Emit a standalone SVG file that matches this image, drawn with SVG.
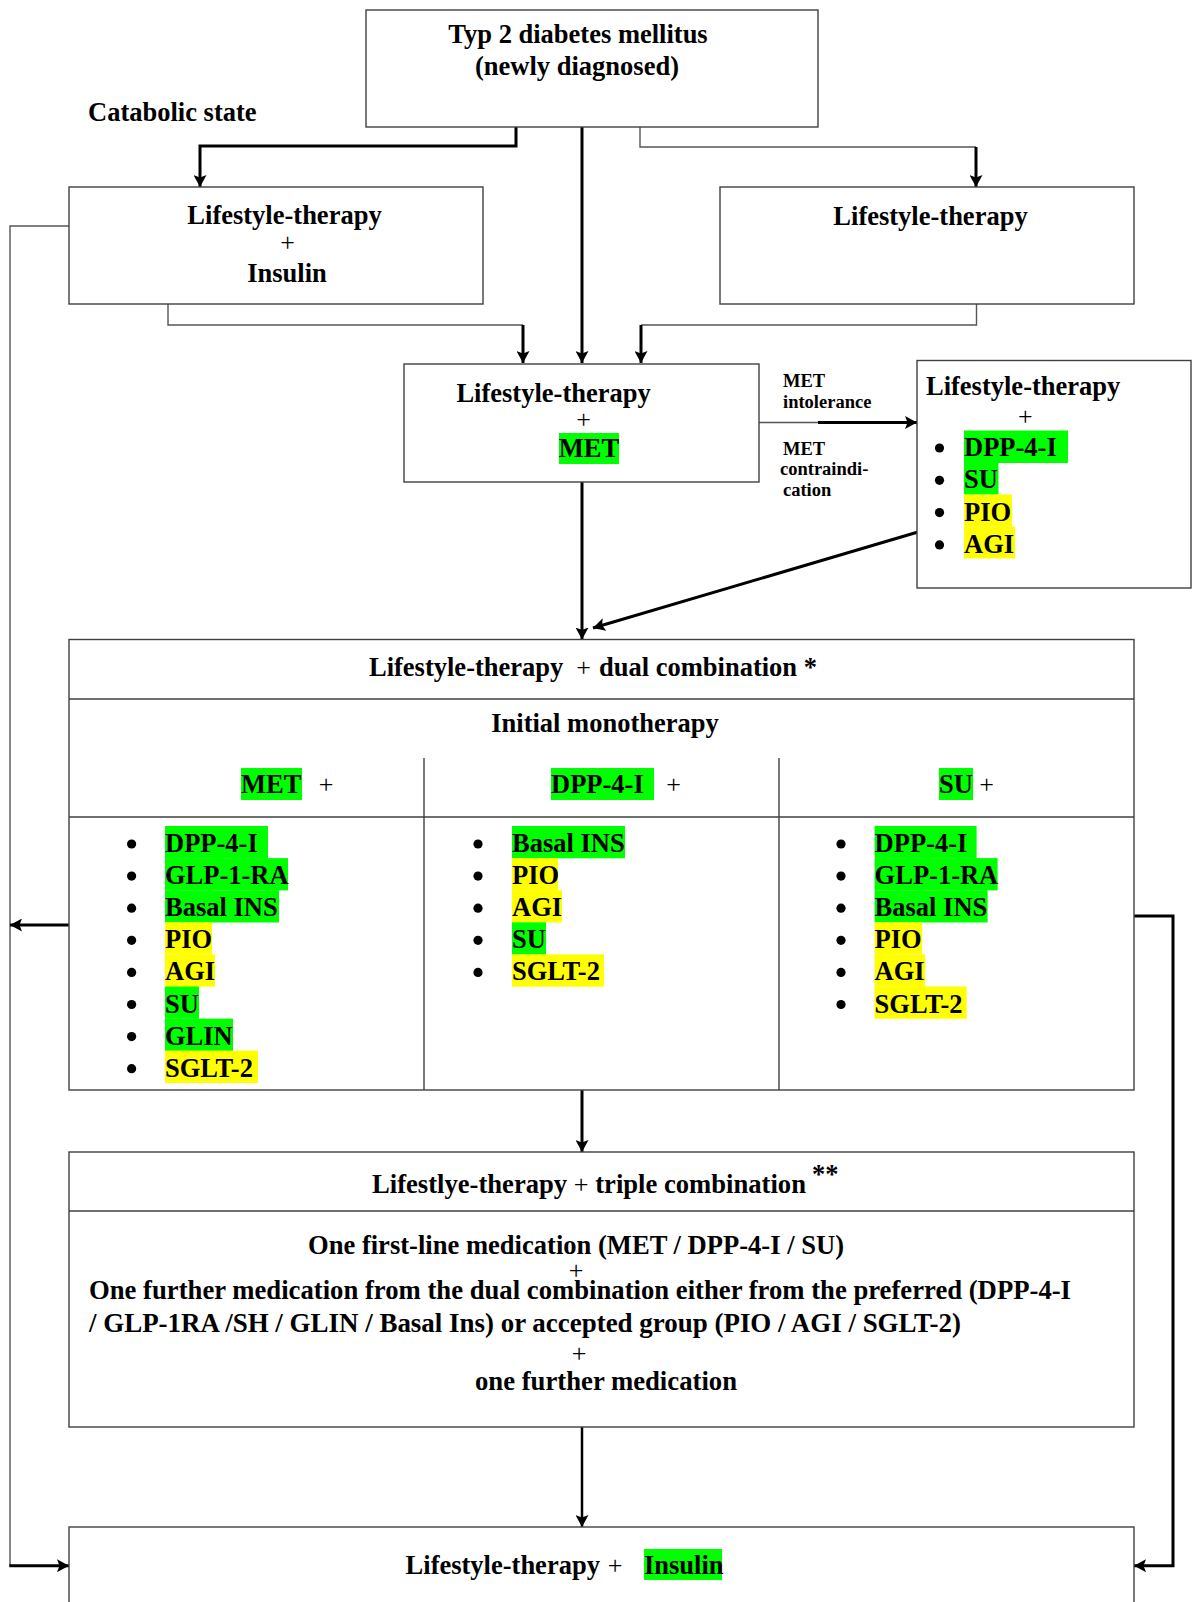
<svg xmlns="http://www.w3.org/2000/svg" width="1193" height="1602" viewBox="0 0 1193 1602">
<style>
.box{fill:#fff;stroke:#404040;stroke-width:1.4}
.sep{fill:none;stroke:#404040;stroke-width:1.4}
.t{font-family:"Liberation Serif","Times New Roman",serif;font-weight:bold;font-size:26.5px;fill:#000}
.p{font-family:"Liberation Serif","Times New Roman",serif;font-weight:normal;font-size:26px;fill:#000}
.s{font-family:"Liberation Serif","Times New Roman",serif;font-weight:bold;font-size:18.5px;fill:#000}
.c{text-anchor:middle}
.g{fill:#00ff00}
.y{fill:#ffff00}
.thick{fill:none;stroke:#000;stroke-width:3}
.thin{fill:none;stroke:#555;stroke-width:1.4}
.arr{marker-end:url(#ah)}
.bul{fill:#000}
</style>
<defs>
<marker id="ah" markerUnits="userSpaceOnUse" markerWidth="13" markerHeight="13" refX="12" refY="6.5" orient="auto">
<path d="M0,0 L12,6.5 L0,13 L2.5,6.5 Z" fill="#000"/>
</marker>
</defs>
<rect width="1193" height="1602" fill="#fff"/>

<g id="connectors">
<path class="thick arr" d="M516,127 V146 H200 V187"/>
<path class="thick arr" d="M582,127 V363"/>
<path class="thin" d="M640,127 V147 H976"/>
<path class="thick arr" d="M976,147 V187"/>
<path class="thin" d="M168,304 V325 H523"/>
<path class="thick arr" d="M523,325 V363"/>
<path class="thin" d="M976.5,304 V325 H641"/>
<path class="thick arr" d="M641,325 V363"/>
<path class="thin" d="M759,422.5 H818"/>
<path class="thick arr" d="M818,422.5 H917"/>
<path class="thick arr" d="M918,532 L593,628"/>
<path class="thick arr" d="M582,482 V639.5"/>
<path class="thick arr" d="M582,1090 V1152"/>
<path class="thick arr" d="M582,1427 V1527" style="stroke-width:2.5"/>
<path class="thin" d="M69,226 H10 V1565.7"/>
<path class="thick arr" d="M9.3,1565.7 H69"/>
<path class="thick arr" d="M69,925 H10"/>
<path class="thick arr" d="M1134,916 H1173 V1565.7 H1134"/>
</g>

<g id="catabolic-label">
<text class="t" x="88" y="120.5">Catabolic state</text>
</g>

<g id="node-t2dm">
<rect class="box" x="366" y="10" width="452" height="117"/>
<text class="t c" x="578" y="43">Typ 2 diabetes mellitus</text>
<text class="t c" x="577" y="74.5">(newly diagnosed)</text>
</g>

<g id="node-lifestyle-insulin">
<rect class="box" x="69" y="187" width="414" height="117"/>
<text class="t c" x="284.5" y="224">Lifestyle-therapy</text>
<text class="p c" x="287.5" y="251">+</text>
<text class="t c" x="287" y="281.5">Insulin</text>
</g>

<g id="node-lifestyle">
<rect class="box" x="720" y="187" width="414" height="117"/>
<text class="t c" x="930.5" y="225">Lifestyle-therapy</text>
</g>

<g id="node-lifestyle-met">
<rect class="box" x="404" y="364" width="355" height="118"/>
<text class="t c" x="553.6" y="402">Lifestyle-therapy</text>
<text class="p c" x="583.7" y="428">+</text>
<rect class="g" x="559" y="433" width="60" height="31"/>
<text class="t c" x="589" y="457">MET</text>
</g>

<g id="met-labels">
<text class="s" x="783" y="387">MET</text>
<text class="s" x="783" y="407.7">intolerance</text>
<text class="s" x="783" y="455">MET</text>
<text class="s" x="780" y="475">contraindi-</text>
<text class="s" x="783" y="495.7">cation</text>
</g>

<g id="node-met-alternatives">
<rect class="box" x="917" y="360.5" width="274" height="227.5"/>
<text class="t" x="926" y="395">Lifestyle-therapy</text>
<text class="p c" x="1025.4" y="425">+</text>
<rect class="g" x="964" y="430.5" width="104" height="32.5"/>
<rect class="g" x="964" y="462.7" width="34.5" height="32"/>
<rect class="y" x="964" y="494.5" width="48" height="32"/>
<rect class="y" x="964" y="526.5" width="51" height="32"/>
<circle class="bul" cx="939.5" cy="448" r="4.6"/>
<circle class="bul" cx="939.5" cy="480.3" r="4.6"/>
<circle class="bul" cx="939.5" cy="512.6" r="4.6"/>
<circle class="bul" cx="939.5" cy="544.9" r="4.6"/>
<text class="t" x="964" y="456">DPP-4-I</text>
<text class="t" x="964" y="488.3">SU</text>
<text class="t" x="964" y="520.6">PIO</text>
<text class="t" x="964" y="553">AGI</text>
</g>

<g id="node-dual">
<rect class="box" x="69" y="639.5" width="1065" height="450.5"/>
<path class="sep" d="M69,699 H1134 M69,817 H1134 M424,758 V1090 M779,758 V1090"/>
<text class="t" x="369" y="675.7">Lifestyle-therapy</text>
<text class="p c" x="583.5" y="675.7">+</text>
<text class="t" x="599" y="675.7">dual combination *</text>
<text class="t c" x="605" y="731.7">Initial monotherapy</text>

<rect class="g" x="241" y="768" width="61" height="32"/>
<text class="t" x="241" y="793">MET</text>
<text class="p c" x="326" y="793">+</text>
<rect class="g" x="551" y="768" width="103" height="32"/>
<text class="t" x="551" y="793">DPP-4-I</text>
<text class="p c" x="673.5" y="793">+</text>
<rect class="g" x="939" y="768" width="34" height="32"/>
<text class="t" x="939" y="793">SU</text>
<text class="p c" x="986.5" y="793">+</text>

<rect class="g" x="165" y="826" width="103" height="32.3"/>
<rect class="g" x="165" y="858.1" width="123" height="32.3"/>
<rect class="g" x="165" y="890.2" width="114" height="32.3"/>
<rect class="y" x="165" y="922.3" width="47" height="32.3"/>
<rect class="y" x="165" y="954.4" width="50" height="32.3"/>
<rect class="g" x="165" y="986.5" width="34" height="32.3"/>
<rect class="g" x="165" y="1018.6" width="68" height="32.3"/>
<rect class="y" x="165" y="1050.7" width="93" height="32.3"/>
<circle class="bul" cx="131.6" cy="844" r="4.6"/>
<circle class="bul" cx="131.6" cy="876.1" r="4.6"/>
<circle class="bul" cx="131.6" cy="908.2" r="4.6"/>
<circle class="bul" cx="131.6" cy="940.3" r="4.6"/>
<circle class="bul" cx="131.6" cy="972.4" r="4.6"/>
<circle class="bul" cx="131.6" cy="1004.5" r="4.6"/>
<circle class="bul" cx="131.6" cy="1036.6" r="4.6"/>
<circle class="bul" cx="131.6" cy="1068.7" r="4.6"/>
<text class="t" x="165" y="852">DPP-4-I</text>
<text class="t" x="165" y="884.1">GLP-1-RA</text>
<text class="t" x="165" y="916.2">Basal INS</text>
<text class="t" x="165" y="948.3">PIO</text>
<text class="t" x="165" y="980.4">AGI</text>
<text class="t" x="165" y="1012.5">SU</text>
<text class="t" x="165" y="1044.6">GLIN</text>
<text class="t" x="165" y="1076.7">SGLT-2</text>

<rect class="g" x="512" y="826" width="113" height="32.3"/>
<rect class="y" x="512" y="858.1" width="46" height="32.3"/>
<rect class="y" x="512" y="890.2" width="50" height="32.3"/>
<rect class="g" x="512" y="922.3" width="34" height="32.3"/>
<rect class="y" x="512" y="954.4" width="92" height="32.3"/>
<circle class="bul" cx="478" cy="844" r="4.6"/>
<circle class="bul" cx="478" cy="876.1" r="4.6"/>
<circle class="bul" cx="478" cy="908.2" r="4.6"/>
<circle class="bul" cx="478" cy="940.3" r="4.6"/>
<circle class="bul" cx="478" cy="972.4" r="4.6"/>
<text class="t" x="512" y="852">Basal INS</text>
<text class="t" x="512" y="884.1">PIO</text>
<text class="t" x="512" y="916.2">AGI</text>
<text class="t" x="512" y="948.3">SU</text>
<text class="t" x="512" y="980.4">SGLT-2</text>

<rect class="g" x="874.6" y="826" width="102" height="32.3"/>
<rect class="g" x="874.6" y="858.1" width="123" height="32.3"/>
<rect class="g" x="874.6" y="890.2" width="113" height="32.3"/>
<rect class="y" x="874.6" y="922.3" width="47.5" height="32.3"/>
<rect class="y" x="874.6" y="954.4" width="50.5" height="32.3"/>
<rect class="y" x="874.6" y="986.5" width="92" height="32.3"/>
<circle class="bul" cx="841" cy="844" r="4.6"/>
<circle class="bul" cx="841" cy="876.1" r="4.6"/>
<circle class="bul" cx="841" cy="908.2" r="4.6"/>
<circle class="bul" cx="841" cy="940.3" r="4.6"/>
<circle class="bul" cx="841" cy="972.4" r="4.6"/>
<circle class="bul" cx="841" cy="1004.5" r="4.6"/>
<text class="t" x="874.6" y="852">DPP-4-I</text>
<text class="t" x="874.6" y="884.1">GLP-1-RA</text>
<text class="t" x="874.6" y="916.2">Basal INS</text>
<text class="t" x="874.6" y="948.3">PIO</text>
<text class="t" x="874.6" y="980.4">AGI</text>
<text class="t" x="874.6" y="1012.5">SGLT-2</text>
</g>

<g id="node-triple">
<rect class="box" x="69" y="1152" width="1065" height="275"/>
<path class="sep" d="M69,1211 H1134"/>
<text class="t" x="372" y="1193" textLength="434" lengthAdjust="spacingAndGlyphs">Lifestlye-therapy <tspan class="p">+</tspan> triple combination</text>
<text class="t" x="812" y="1183">**</text>
<text class="t c" x="576" y="1254" textLength="536" lengthAdjust="spacingAndGlyphs">One first-line medication (MET / DPP-4-I / SU)</text>
<text class="p c" x="576" y="1279">+</text>
<text class="t" x="89" y="1299" textLength="982" lengthAdjust="spacingAndGlyphs">One further medication from the dual combination either from the preferred (DPP-4-I</text>
<text class="t" x="89" y="1331.7" textLength="872" lengthAdjust="spacingAndGlyphs">/ GLP-1RA /SH / GLIN / Basal Ins) or accepted group (PIO / AGI / SGLT-2)</text>
<text class="p c" x="579" y="1362">+</text>
<text class="t c" x="606" y="1390" textLength="262" lengthAdjust="spacingAndGlyphs">one further medication</text>
</g>

<g id="node-insulin">
<rect class="box" x="69" y="1527" width="1065" height="100"/>
<text class="t" x="405.6" y="1574">Lifestyle-therapy</text>
<text class="p c" x="615" y="1574">+</text>
<rect class="g" x="644" y="1549" width="78" height="31"/>
<text class="t" x="644" y="1574">Insulin</text>
</g>
</svg>
